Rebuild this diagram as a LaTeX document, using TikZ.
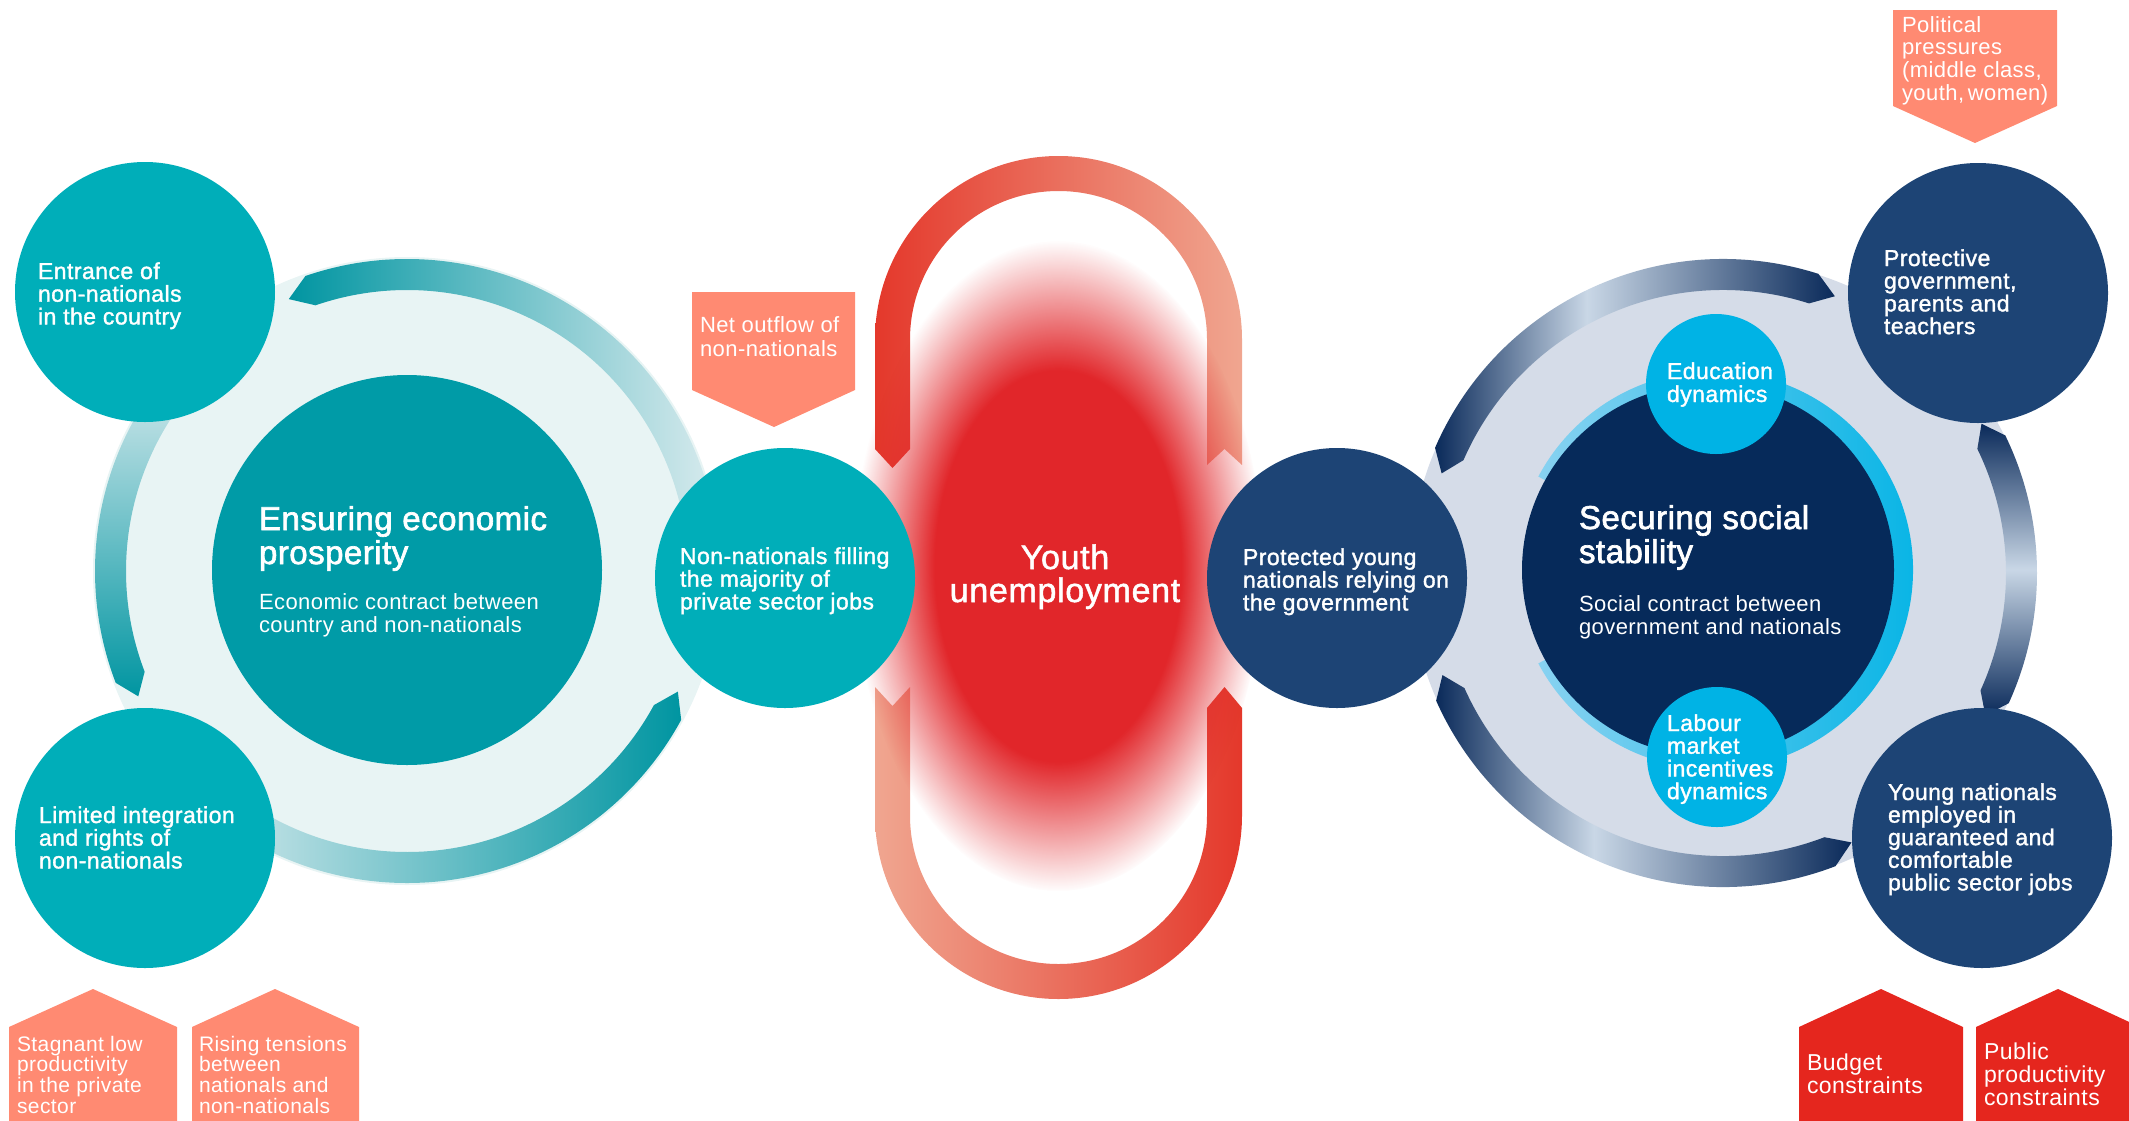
\documentclass[tikz,border=0pt]{standalone}
\usepackage{fontspec}
\setmainfont{Liberation Sans}[LetterSpace=2]
\newfontfamily\medf{Liberation Sans}[LetterSpace=2,FakeBold=1.5]
\newfontfamily\titf{Liberation Sans}[LetterSpace=1.5,FakeBold=2]
\usetikzlibrary{calc,fadings}

\definecolor{tealC}{HTML}{00AEB9}
\definecolor{tealD}{HTML}{009BA7}
\definecolor{tealL}{HTML}{E8F4F4}
\definecolor{tealArcD}{HTML}{0095A1}
\definecolor{tealArcL}{HTML}{D6EAED}
\definecolor{navyC}{HTML}{1D4475}
\definecolor{navyD}{HTML}{062A5A}
\definecolor{navyL}{HTML}{D5DCE8}
\definecolor{navyArcD}{HTML}{0A2A5A}
\definecolor{navyArcL}{HTML}{C9D7E6}
\definecolor{cyanC}{HTML}{00B3E5}
\definecolor{cyanL}{HTML}{88D2F1}
\definecolor{salmon}{HTML}{FF8A72}
\definecolor{redbox}{HTML}{E5261E}
\definecolor{blobred}{HTML}{E1262A}
\definecolor{ringred}{HTML}{E4382B}
\definecolor{ringlight}{HTML}{F0A690}

\pgfdeclareradialshading{blurshade}{\pgfpointorigin}{color(0bp)=(white); color(15bp)=(white); color(25bp)=(black); color(50bp)=(black)}
\pgfdeclarefading{blurfade}{\pgfuseshading{blurshade}}
\pgfdeclarehorizontalshading{navyH}{100bp}{color(0bp)=(navyArcD); color(25bp)=(navyArcD); color(44bp)=(navyArcL); color(75bp)=(navyArcD); color(100bp)=(navyArcD)}

% ring segment: #1 centre, #2 inner r, #3 outer r, #4 start angle, #5 end angle,
% #6 tip angle at start, #7 tip angle at end (math angles, y up), #8 options
\newcommand{\seg}[8]{%
  \path[#8] ($(#1)+({-(#4)}:#3)$) arc[start angle={-(#4)}, end angle={-(#5)}, radius=#3]
    -- ($(#1)+({-(#7)}:{(#2+#3)/2})$)
    -- ($(#1)+({-(#5)}:#2)$) arc[start angle={-(#5)}, end angle={-(#4)}, radius=#2]
    -- ($(#1)+({-(#6)}:{(#2+#3)/2})$) -- cycle;}
\newcommand{\txt}[4]{\parbox[t]{500pt}{\raggedright #1\fontsize{#2}{#3}\selectfont #4}}
\newcommand{\ctxt}[4]{\parbox[t]{500pt}{\centering #1\fontsize{#2}{#3}\selectfont #4}}

\begin{document}
\begin{tikzpicture}[x=1pt, y=-1pt,
  disc/.style={circle, inner sep=0pt, outer sep=0pt, draw=none},
  lbl/.style={anchor=base west, inner sep=0pt, outer sep=0pt, text=white},
  clbl/.style={anchor=base, inner sep=0pt, outer sep=0pt, text=white},
  tagS/.style={fill=salmon, draw=none},
  tagR/.style={fill=redbox, draw=none}]
\useasboundingbox (0,0) rectangle (2129,1120);
\begin{scope}
\clip (0,0) rectangle (2129,1120);

% ---------- left cycle ----------
\coordinate (lc) at (407,571);
\node[disc, fill=tealL, minimum size=628] (ldisc) at (lc) {};
\seg{lc}{281}{312}{12}{109}{12}{113.5}{shade, left color=tealArcD, right color=tealArcL}
\seg{lc}{281}{312}{140}{201}{140}{205}{shade, top color=tealArcL, bottom color=tealArcD}
\seg{lc}{281}{312}{228}{331.5}{228}{336}{shade, left color=tealArcL, right color=tealArcD}
\node[disc, fill=tealD, minimum size=390] (econ) at (407,570) {};
\node[lbl] (econT) at (259,530) {\txt{\titf}{33}{34}{Ensuring economic\\prosperity}};
\node[lbl] (econS) at (259,609) {\txt{}{22}{23}{Economic contract between\\country and non-nationals}};

% ---------- right cycle ----------
\coordinate (rc) at (1723,573);
\coordinate (cc) at (1714,570);
\node[disc, fill=navyL, minimum size=626] (rdisc) at (rc) {};
\seg{rc}{283}{314}{72.3}{156.5}{68}{160.5}{shading=navyH}
\seg{rc}{283}{314}{-24.5}{26}{-28.5}{30}{shade, top color=navyArcD, bottom color=navyArcD, middle color=navyArcL}
\seg{rc}{283}{314}{204}{291}{200}{295.5}{shading=navyH}
\seg{cc}{170}{199}{208}{512}{208}{512}{shade, left color=cyanL, right color=cyanC}
\node[disc, fill=navyD, minimum size=372] (soc) at (1708,570) {};
\node[lbl] (socT) at (1579,529) {\txt{\titf}{33}{34}{Securing social\\stability}};
\node[lbl] (socS) at (1579,611) {\txt{}{22}{23}{Social contract between\\government and nationals}};
\node[disc, fill=cyanC, minimum size=140] (edu) at (1716,384) {};
\node[lbl] (eduT) at (1667,379) {\txt{\medf}{23}{23}{Education\\dynamics}};
\node[disc, fill=cyanC, minimum size=140] (lab) at (1717,757) {};
\node[lbl] (labT) at (1667,731) {\txt{\medf}{23}{22.7}{Labour\\market\\incentives\\dynamics}};

% ---------- central loop ----------
\shade[left color=ringred, right color=ringlight]
  (875,449) -- (875,339.5) arc[start angle=-180, end angle=0, radius=183.5]
  -- (1242,465) -- (1224.5,449) -- (1207,465) -- (1207,339.5)
  arc[start angle=0, end angle=-180, radius=148.5]
  -- (910,449) -- (892.5,468) -- cycle;
\shade[left color=ringlight, right color=ringred]
  (875,687) -- (892.5,706) -- (910,687) -- (910,815.5)
  arc[start angle=-180, end angle=-360, radius=148.5]
  -- (1207,708) -- (1224.5,687) -- (1242,708) -- (1242,815.5)
  arc[start angle=0, end angle=180, radius=183.5] -- cycle;
\fill[blobred, path fading=blurfade] (1058,566) ellipse [x radius=205, y radius=325];
\node[clbl] (youth) at (1065,569) {\ctxt{\medf}{34}{33}{Youth\\unemployment}};

% ---------- satellite circles ----------
\node[disc, fill=tealC, minimum size=260] (entr) at (145,292) {};
\node[lbl] (entrT) at (38,279) {\txt{\medf}{23}{22.7}{Entrance of\\non-nationals\\in the country}};
\node[disc, fill=tealC, minimum size=260] (limi) at (145,838) {};
\node[lbl] (limiT) at (39,823) {\txt{\medf}{23}{22.7}{Limited integration\\and rights of\\non-nationals}};
\node[disc, fill=tealC, minimum size=260] (nonn) at (785,578) {};
\node[lbl] (nonnT) at (680,564) {\txt{\medf}{23}{22.7}{Non-nationals filling\\the majority of\\private sector jobs}};
\node[disc, fill=navyC, minimum size=260] (prot) at (1337,578) {};
\node[lbl] (protT) at (1243,565) {\txt{\medf}{23}{22.7}{Protected young\\nationals relying on\\the government}};
\node[disc, fill=navyC, minimum size=260] (pgov) at (1978,293) {};
\node[lbl] (pgovT) at (1884,266) {\txt{\medf}{23}{22.7}{Protective\\government,\\parents and\\teachers}};
\node[disc, fill=navyC, minimum size=260] (ynat) at (1982,838) {};
\node[lbl] (ynatT) at (1888,800) {\txt{\medf}{23}{22.6}{Young nationals\\employed in\\guaranteed and\\comfortable\\public sector jobs}};

% ---------- tags ----------
\fill[tagS] (692,292) -- (855,292) -- (855,390) -- (774,427) -- (692,390) -- cycle;
\node[lbl] (outT) at (700,332.5) {\txt{}{22}{23.5}{Net outflow of\\non-nationals}};
\fill[tagS] (1893,10) -- (2057,10) -- (2057,106) -- (1975,143) -- (1893,106) -- cycle;
\node[lbl] (polT) at (1902,32) {\txt{}{22}{22.7}{Political\\pressures\\(middle class,\\youth,\,women)}};
\fill[tagS] (9,1130) -- (9,1027) -- (93,989) -- (177,1027) -- (177,1130) -- cycle;
\node[lbl] (stagT) at (17,1051) {\txt{}{21}{20.7}{Stagnant low\\productivity\\in the private\\sector}};
\fill[tagS] (192,1130) -- (192,1027) -- (275,989) -- (359,1027) -- (359,1130) -- cycle;
\node[lbl] (riseT) at (199,1051) {\txt{}{21}{20.7}{Rising tensions\\between\\nationals and\\non-nationals}};
\fill[tagR] (1799,1130) -- (1799,1027) -- (1881,989) -- (1963,1027) -- (1963,1130) -- cycle;
\node[lbl] (budT) at (1807,1070) {\txt{}{23}{23}{Budget\\constraints}};
\fill[tagR] (1976,1130) -- (1976,1027) -- (2058,989) -- (2140,1027) -- (2140,1130) -- cycle;
\node[lbl] (pubT) at (1984,1059) {\txt{}{23}{23}{Public\\productivity\\constraints}};
\end{scope}
\end{tikzpicture}
\end{document}
